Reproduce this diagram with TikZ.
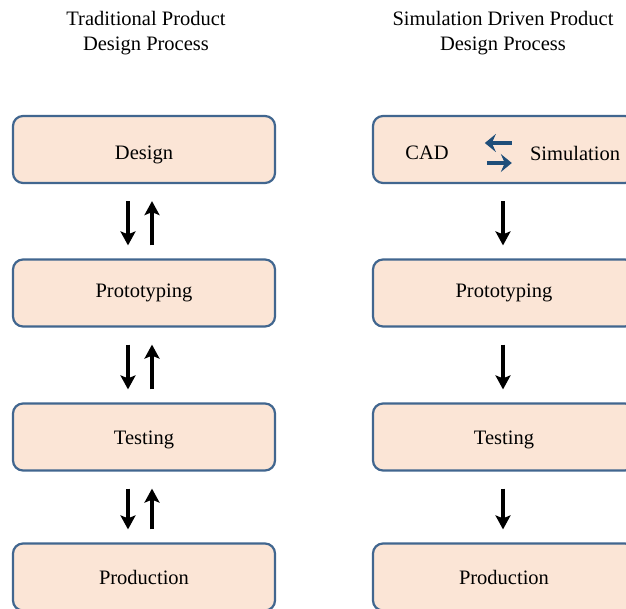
\documentclass[tikz,border=0pt]{standalone}
\usepackage{fontspec}
\setmainfont{Liberation Serif}
\usepackage{xcolor}
\usetikzlibrary{arrows.meta, positioning, calc}
\definecolor{boxfill}{HTML}{FBE5D6}
\definecolor{boxline}{HTML}{41668F}
\definecolor{darkblue}{HTML}{1F4E79}
\tikzset{
  pbox/.style={
    rectangle, rounded corners=10pt,
    draw=boxline, fill=boxfill, line width=2.2pt,
    minimum width=262pt, minimum height=67pt,
    font=\fontsize{20.5}{24}\selectfont, inner sep=0pt
  },
  ttl/.style={
    align=center, font=\fontsize{20.5}{25}\selectfont, inner sep=0pt
  },
  lbl/.style={
    font=\fontsize{20.5}{24}\selectfont, inner sep=0pt
  },
  arr/.style={
    -{Stealth[length=14pt,width=15pt,inset=3pt]},
    black, line width=3.4pt
  },
  barr/.style={
    -{Stealth[length=11pt,width=18pt,inset=4pt]},
    darkblue, line width=4.6pt
  },
}
\begin{document}
\begin{tikzpicture}[x=1pt,y=-1pt]
  \clip (0,0) rectangle (626,608);
  \fill[white] (0,0) rectangle (626,608);
  % titles
  \node[ttl] (ttitle) at (146,33.5) {Traditional Product\\Design Process};
  \node[ttl] (stitle) at (503,33.5) {Simulation Driven Product\\Design Process};
  % traditional process
  \node[pbox, label={[lbl,yshift=-5pt]center:Design}] (tdesign) at (144,149.5) {};
  \node[pbox] (tproto)  at (144,293)   {Prototyping};
  \node[pbox, label={[lbl,yshift=-3pt]center:Testing}] (ttest) at (144,437) {};
  \node[pbox] (tprod)   at (144,577)   {Production};
  % simulation driven process
  \node[pbox] (sdesign) at (504,149.5) {};
  \node[lbl]  (cad) at (427,153) {CAD};
  \node[lbl]  (sim) at (575,153) {Simulation};
  \node[pbox] (sproto)  at (504,293)   {Prototyping};
  \node[pbox, label={[lbl,yshift=-3pt]center:Testing}] (stest) at (504,437) {};
  \node[pbox] (sprod)   at (504,577)   {Production};
  % CAD <-> Simulation
  \draw[barr] ([shift={(-18pt,10pt)}]sim.west) -- ([shift={(36pt,10pt)}]cad.east);
  \draw[barr] ([shift={(38pt,-10pt)}]cad.east) -- ([shift={(-18pt,-10pt)}]sim.west);
  % arrows between steps
  \foreach \a/\b in {tdesign/tproto, tproto/ttest, ttest/tprod}{
    \draw[arr] ([shift={(-16pt,-17pt)}]\a.south) -- ([shift={(-16pt,13pt)}]\b.north);
    \draw[arr] ([shift={(8pt,13pt)}]\b.north) -- ([shift={(8pt,-17pt)}]\a.south);
  }
  \foreach \a/\b in {sdesign/sproto, sproto/stest, stest/sprod}{
    \draw[arr] ([shift={(-1pt,-17pt)}]\a.south) -- ([shift={(-1pt,13pt)}]\b.north);
  }
\end{tikzpicture}
\end{document}
